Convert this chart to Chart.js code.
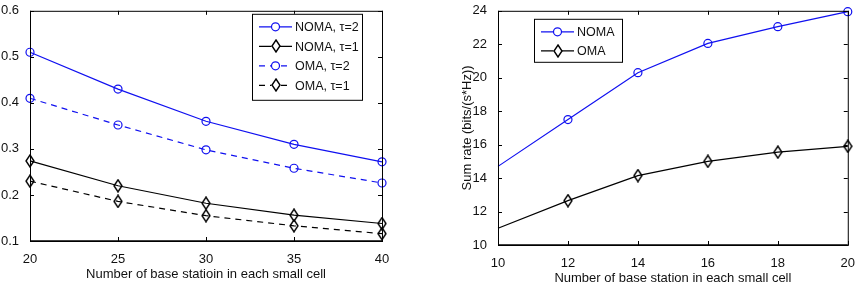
<!DOCTYPE html>
<html>
<head>
<meta charset="utf-8">
<script src="https://cdn.jsdelivr.net/npm/chart.js@4.4.1/dist/chart.umd.min.js"></script>
<style>
  body { margin: 0; background: #fff; }
  #left { position: absolute; left: 0; top: 0; }
  #right { position: absolute; left: 430px; top: 0; }
</style>
</head>
<body>
<canvas id="left" width="420" height="286"></canvas>
<canvas id="right" width="428" height="286"></canvas>
<script>
// Left chart data
var leftX = [20, 25, 30, 35, 40];
var nomaTau2 = [0.51, 0.43, 0.36, 0.31, 0.272];
var nomaTau1 = [0.274, 0.22, 0.182, 0.156, 0.138];
var omaTau2 = [0.41, 0.352, 0.298, 0.258, 0.226];
var omaTau1 = [0.23, 0.186, 0.155, 0.133, 0.116];

// Right chart data
var rightX = [10, 12, 14, 16, 18, 20];
var nomaRate = [14.7, 17.5, 20.3, 22.05, 23.05, 23.95];
var omaRate = [11.0, 12.65, 14.15, 15.0, 15.55, 15.9];

var FONT = '"Liberation Sans", Arial, sans-serif';
var BLUE = '#1010f0';

// narrow matlab style diamond marker
var diamond = document.createElement('canvas');
diamond.width = 10;
diamond.height = 14;
(function () {
    var c = diamond.getContext('2d');
    c.strokeStyle = '#000';
    c.lineWidth = 1.4;
    c.beginPath();
    c.moveTo(5, 1);
    c.lineTo(9, 7);
    c.lineTo(5, 13);
    c.lineTo(1, 7);
    c.closePath();
    c.stroke();
})();

function series(label, data, color, dashed, marker) {
    return {
        label: label,
        data: data,
        borderColor: color,
        backgroundColor: 'transparent',
        borderWidth: 1.2,
        borderDash: dashed ? [6, 5] : [],
        pointStyle: marker === 'circle' ? 'circle' : diamond,
        pointRadius: 4,
        pointBorderWidth: 1.2,
        pointBorderColor: color,
        pointBackgroundColor: 'transparent',
        tension: 0,
        clip: false
    };
}

// box, inward ticks and legend, matlab style
var matlabFrame = {
    id: 'matlabFrame',
    afterDraw: function (chart, args, opts) {
        var ctx = chart.ctx;
        var a = chart.chartArea;
        var tl = 4;
        ctx.save();
        ctx.strokeStyle = '#000';
        ctx.lineWidth = 1;
        ctx.strokeRect(a.left + 0.5, a.top + 0.5, a.right - a.left, a.bottom - a.top);
        ctx.lineWidth = 1.6;
        ctx.beginPath();
        ctx.moveTo(a.left, a.bottom); ctx.lineTo(a.right, a.bottom);
        ctx.stroke();
        ctx.lineWidth = 1;
        chart.scales.x.ticks.forEach(function (t) {
            var px = Math.round(chart.scales.x.getPixelForValue(t.value)) + 0.5;
            ctx.beginPath();
            ctx.moveTo(px, a.bottom); ctx.lineTo(px, a.bottom - tl);
            ctx.moveTo(px, a.top); ctx.lineTo(px, a.top + tl);
            ctx.stroke();
        });
        chart.scales.y.ticks.forEach(function (t) {
            var py = Math.round(chart.scales.y.getPixelForValue(t.value)) + 0.5;
            ctx.beginPath();
            ctx.moveTo(a.left, py); ctx.lineTo(a.left + tl, py);
            ctx.moveTo(a.right, py); ctx.lineTo(a.right - tl, py);
            ctx.stroke();
        });

        // legend box
        var bx = opts.fromRight != null ? a.right - opts.fromRight - opts.w : a.left + opts.fromLeft;
        var by = a.top + opts.top;
        ctx.fillStyle = '#fff';
        ctx.fillRect(bx, by, opts.w, opts.h);
        ctx.strokeStyle = '#000';
        ctx.strokeRect(bx + 0.5, by + 0.5, opts.w, opts.h);
        ctx.font = '12.5px ' + FONT;
        ctx.textBaseline = 'middle';
        chart.data.datasets.forEach(function (ds, i) {
            var y = by + opts.first + i * opts.gap;
            var x0 = bx + 7, x1 = bx + 40;
            ctx.strokeStyle = ds.borderColor;
            ctx.lineWidth = 1.2;
            ctx.setLineDash(ds.borderDash);
            ctx.beginPath();
            ctx.moveTo(x0, y); ctx.lineTo(x1, y);
            ctx.stroke();
            ctx.setLineDash([]);
            var mx = (x0 + x1) / 2;
            if (ds.pointStyle === 'circle') {
                ctx.fillStyle = '#fff';
                ctx.beginPath();
                ctx.arc(mx, y, 4, 0, Math.PI * 2);
                ctx.fill();
                ctx.stroke();
            } else {
                ctx.fillStyle = '#fff';
                ctx.fillRect(mx - 4, y - 6, 8, 12);
                ctx.drawImage(diamond, Math.round(mx - 5), Math.round(y - 7));
            }
            ctx.fillStyle = '#111';
            ctx.fillText(ds.label, x1 + 3, y + 1);
        });
        ctx.restore();
    }
};

function axes(xmin, xmax, xstep, ymin, ymax, ystep, ydec, xTitle, yTitle, yWidth, xHeight, xPad, titlePad) {
    return {
        x: {
            type: 'linear',
            min: xmin, max: xmax,
            grid: { display: false },
            border: { display: false },
            afterFit: function (s) { s.height = xHeight; },
            ticks: { stepSize: xstep, color: '#111', padding: xPad, maxRotation: 0, font: { family: FONT, size: 13 } },
            title: { display: true, text: xTitle, color: '#111', padding: { top: 0, bottom: titlePad }, font: { family: FONT, size: 13 } }
        },
        y: {
            min: ymin, max: ymax,
            grid: { display: false },
            border: { display: false },
            afterFit: function (s) { s.width = yWidth; },
            ticks: {
                stepSize: ystep, color: '#111', padding: 3, font: { family: FONT, size: 13 },
                callback: function (v) { return v.toFixed(ydec); }
            },
            title: { display: !!yTitle, text: yTitle, color: '#111', padding: 0, font: { family: FONT, size: 13 } }
        }
    };
}

// Left chart
var leftChart = new Chart(document.getElementById('left').getContext('2d'), {
    type: 'line',
    data: {
        labels: leftX,
        datasets: [
            series('NOMA, \u03c4=2', nomaTau2, BLUE, false, 'circle'),
            series('NOMA, \u03c4=1', nomaTau1, '#000', false, 'diamond'),
            series('OMA, \u03c4=2', omaTau2, BLUE, true, 'circle'),
            series('OMA, \u03c4=1', omaTau1, '#000', true, 'diamond')
        ]
    },
    options: {
        responsive: false,
        animation: false,
        layout: { padding: { left: 0, right: 38, top: 8, bottom: 0 } },
        scales: axes(20, 40, 5, 0.1, 0.6, 0.1, 1, 'Number of base statioin in each small cell', '', 30, 45, 3, 4),
        plugins: {
            legend: { display: false },
            tooltip: { enabled: false },
            matlabFrame: { fromRight: 20, top: 3, w: 110, h: 86, first: 13, gap: 19.5 }
        }
    },
    plugins: [matlabFrame]
});

// Right chart
var rightDatasets = [
    series('NOMA', nomaRate, BLUE, false, 'circle'),
    series('OMA', omaRate, '#000', false, 'diamond')
];
// first point sits on the axis without a marker
rightDatasets.forEach(function (ds) { ds.pointRadius = [0, 4, 4, 4, 4, 4]; });

var rightChart = new Chart(document.getElementById('right').getContext('2d'), {
    type: 'line',
    data: { labels: rightX, datasets: rightDatasets },
    options: {
        responsive: false,
        animation: false,
        layout: { padding: { left: 30, right: 7, top: 6, bottom: 0 } },
        scales: axes(10, 20, 2, 10, 24, 2, 0, 'Number of base station in each small cell', 'Sum rate (bits/(s*Hz))', 38, 41, 3, 0),
        plugins: {
            legend: { display: false },
            tooltip: { enabled: false },
            matlabFrame: { fromLeft: 36, top: 8, w: 88, h: 43, first: 13, gap: 19 }
        }
    },
    plugins: [matlabFrame]
});
</script>
</body>
</html>
